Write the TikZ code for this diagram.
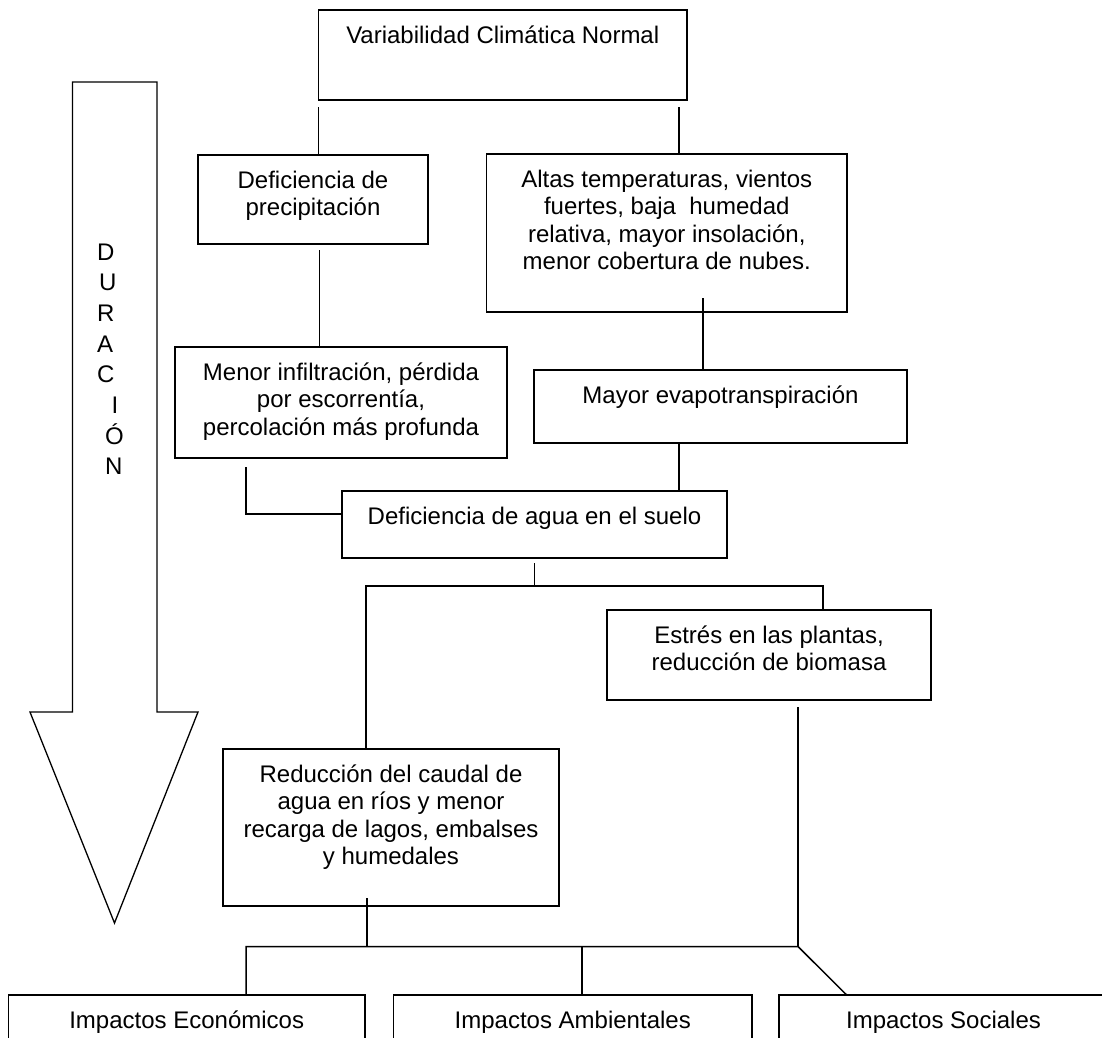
\documentclass[tikz,border=0pt]{standalone}
\usepackage{fontspec}
\setmainfont{Liberation Sans}
\usetikzlibrary{calc}
\newcommand{\bxtext}[3]{\parbox[c][#2pt][t]{#1pt}{\centering\fontsize{24}{27.6}\selectfont\rule{0pt}{33pt}#3}}
\begin{document}
\begin{tikzpicture}[x=1pt,y=-1pt,
  bx/.style={draw, line width=1.8pt, inner sep=0pt, outer sep=0pt, anchor=north west},
  ln/.style={line width=1.5pt},
  arrowshape/.style={line width=1.3pt}]
\useasboundingbox (0,0) rectangle (1102,1037);
\clip (0,0) rectangle (1102,1037);
\fill[white] (0,0) rectangle (1102,1037);

% DURACION arrow
\draw[arrowshape] (72.5,82) -- (157,82) -- (157,712) -- (198,712) -- (114.5,923) -- (30,712) -- (72.5,712) -- cycle;
\node[inner sep=0pt, outer sep=0pt, anchor=north west] (dur) at (97,227)
  {\parbox[t]{40pt}{\raggedright\fontsize{24}{30.7}\selectfont\rule{0pt}{33pt}D\\\hspace*{2pt}U\\R\\A\\C\\\hspace*{14.5pt}I\\\hspace*{8pt}Ó\\\hspace*{8pt}N}};

% boxes
\node[bx] (top) at (318.5,10) {\bxtext{368.5}{90}{Variabilidad Climática Normal}};
\node[bx] (defp) at (198,155) {\bxtext{230}{89}{Deficiencia de\\precipitación}};
\node[bx] (altas) at (486.5,154) {\bxtext{360.5}{158}{Altas temperaturas, vientos\\fuertes, baja~ humedad\\relativa, mayor insolación,\\menor cobertura de nubes.}};
\node[bx] (menor) at (175,347) {\bxtext{332}{111}{Menor infiltración, pérdida\\por escorrentía,\\percolación más profunda}};
\node[bx] (mayor) at (534,370) {\bxtext{373}{73}{Mayor evapotranspiración}};
\node[bx] (agua) at (342,491) {\bxtext{385}{67}{Deficiencia de agua en el suelo}};
\node[bx] (estres) at (607,610) {\bxtext{324}{90}{Estrés en las plantas,\\reducción de biomasa}};
\node[bx] (reduc) at (223,749) {\bxtext{336}{157}{Reducción del caudal de\\agua en ríos y menor\\recarga de lagos, embalses\\y humedales}};
\node[bx] (econ) at (8.4,995) {\bxtext{356.6}{100}{Impactos Económicos}};
\node[bx] (amb) at (393.5,995) {\bxtext{358.5}{100}{Impactos Ambientales}};
\node[bx] (soc) at (779,995) {\bxtext{329}{100}{Impactos Sociales}};

% junctions
\coordinate (j1) at ([yshift=-28pt]agua.south);
\coordinate (j2) at (798,946.5);

% connectors
\draw[ln] ([yshift=-7pt]top.south west) -- (top.south west |- defp.north);
\draw[ln] ([xshift=-8pt,yshift=-7pt]top.south east) -- ([xshift=-8pt]top.south east |- altas.north);
\draw[ln] ([xshift=6.5pt,yshift=-6pt]defp.south) -- ([xshift=6.5pt]defp.south |- menor.north);
\draw[ln] ([xshift=36pt,yshift=14pt]altas.south) -- ([xshift=36pt]altas.south |- mayor.north);
\draw[ln] ([xshift=-41.5pt]mayor.south) -- ([xshift=-41.5pt]mayor.south |- agua.north);
\draw[ln] ([xshift=71pt,yshift=-9pt]menor.south west) |- ([yshift=-23pt]agua.north west);
\draw[ln] ([yshift=-5pt]agua.south) -- (j1);
\draw[ln] ([xshift=-25pt]reduc.north) -- ([xshift=-25pt]reduc.north |- j1) -- ([xshift=54pt]estres.north |- j1) -- ([xshift=54pt]estres.north);
\draw[ln] ([xshift=29pt,yshift=-7pt]estres.south) -- (j2);
\draw[ln] ([xshift=-24pt,yshift=8pt]reduc.south) -- ([xshift=-24pt]reduc.south |- j2);
\draw[ln] ([xshift=59.3pt]econ.north) -- ([xshift=59.3pt]econ.north |- j2) -- (j2) -- ([xshift=67.7pt]soc.north west);
\draw[ln] ([xshift=9.25pt]amb.north) -- ([xshift=9.25pt]amb.north |- j2);
\end{tikzpicture}
\end{document}
